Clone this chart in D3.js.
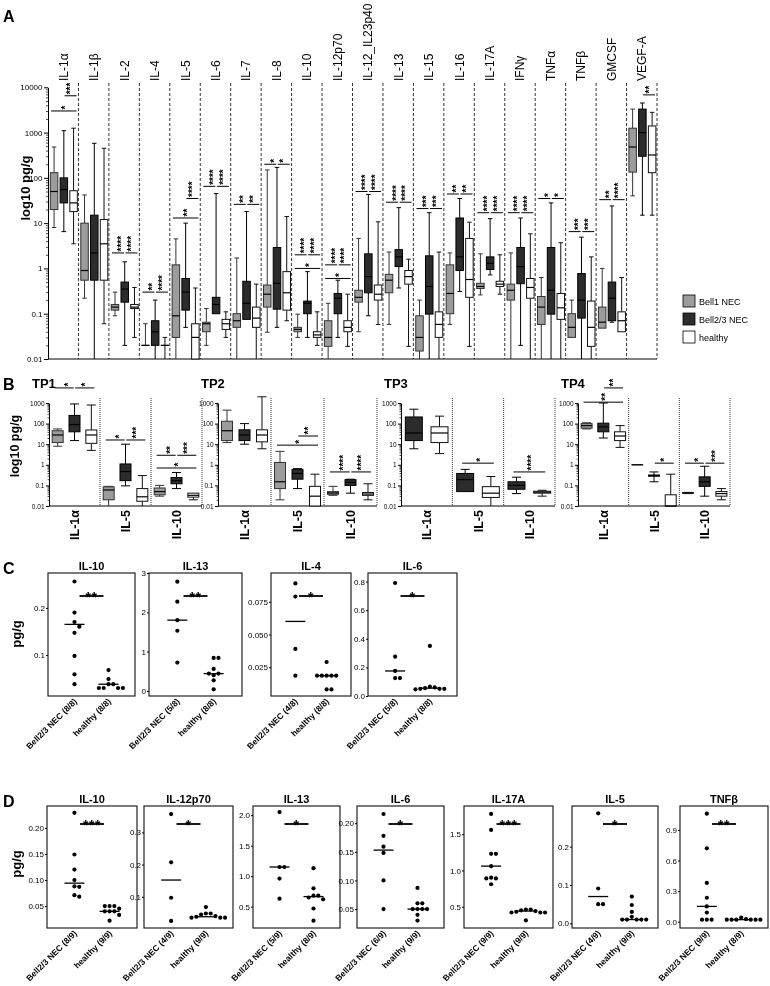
<!DOCTYPE html>
<html>
<head>
<meta charset="utf-8">
<script src="https://cdn.jsdelivr.net/npm/d3@7/dist/d3.min.js"></script>
<style>
  html,body{margin:0;padding:0;background:#fff;}
  svg{will-change:transform;}
  svg text{font-family:"Liberation Sans",Arial,Helvetica,sans-serif;}
</style>
</head>
<body>
<svg id="chart" width="770" height="986" xmlns="http://www.w3.org/2000/svg"></svg>
<script>
// ================= DATA =================
const groups = ["Bell1 NEC", "Bell2/3 NEC", "healthy"];

// ---- Panel A : box plots, [low whisker, q1, median, q3, high whisker] (pg/g)
const catsA = ["IL-1α","IL-1β","IL-2","IL-4","IL-5","IL-6","IL-7","IL-8","IL-10","IL-12p70","IL-12_IL23p40","IL-13","IL-15","IL-16","IL-17A","IFNγ","TNFα","TNFβ","GMCSF","VEGF-A"];
const bell1A = [
  [8,20,50,130,480],[0.22,0.55,0.9,10,42],[0.09,0.12,0.14,0.16,0.3],[0.02,0.02,0.02,0.02,0.06],
  [0.01,0.03,0.09,1.2,4.5],[0.02,0.04,0.06,0.065,0.13],[0.01,0.05,0.07,0.1,1.7],[0.039,0.14,0.27,0.43,150],
  [0.03,0.04,0.045,0.05,0.098],[0.01,0.019,0.03,0.07,0.17],[0.04,0.18,0.23,0.33,4.6],[0.058,0.29,0.55,0.74,2.3],
  [0.01,0.015,0.03,0.09,0.2],[0.058,0.1,0.28,1.2,2.2],[0.26,0.36,0.4,0.47,2.1],[0.01,0.2,0.33,0.45,2.2],
  [0.01,0.058,0.14,0.24,0.63],[0.03,0.03,0.05,0.1,0.2],[0.048,0.048,0.065,0.14,1.0],[40,134,480,1250,3300]
];
const bell23A = [
  [6.5,28,55,100,1100],[0.01,0.55,2.2,15,580],[0.02,0.18,0.35,0.5,1.4],[0.01,0.02,0.04,0.07,0.2],
  [0.05,0.12,0.3,0.6,10],[0.1,0.1,0.16,0.23,45],[0.075,0.075,0.17,0.52,18],[0.05,0.126,0.47,2.9,170],
  [0.03,0.1,0.17,0.19,0.85],[0.03,0.1,0.22,0.28,0.55],[0.09,0.29,0.66,2.1,43],[0.37,1.1,1.8,2.6,22],
  [0.01,0.098,0.4,1.9,17],[0.31,0.9,1.8,13,35],[0.72,0.95,1.3,1.8,12.6],[0.02,0.46,1.1,2.9,13],
  [0.01,0.098,0.33,2.9,28],[0.01,0.08,0.2,0.77,4.9],[0.065,0.07,0.22,0.5,24],[15,300,1000,3300,4500]
];
const healthyA = [
  [3.5,18,28,52,1250],[0.06,0.55,3.5,12,450],[0.03,0.13,0.14,0.16,0.38],[0.01,0.02,0.02,0.02,0.03],
  [0.01,0.01,0.03,0.06,0.37],[0.03,0.045,0.06,0.075,0.11],[0.01,0.05,0.08,0.14,0.45],[0.07,0.12,0.29,0.85,14],
  [0.02,0.03,0.034,0.04,0.11],[0.019,0.04,0.05,0.07,0.27],[0.058,0.2,0.27,0.43,10.7],[0.019,0.45,0.66,0.9,1.6],
  [0.01,0.03,0.058,0.11,2.3],[0.019,0.23,0.57,4.6,10.5],[0.27,0.4,0.45,0.52,2.0],[0.01,0.22,0.38,0.6,5.8],
  [0.01,0.075,0.135,0.28,3.7],[0.01,0.019,0.05,0.19,1.8],[0.04,0.04,0.07,0.11,0.63],[15,130,320,1400,2800]
];
const ticksA = [0.01,0.1,1,10,100,1000,10000];
// significance: [category, fromGroup, toGroup, level (pg/g), stars]
const sigA = [
  ["IL-1α",0,2,3000,"*"],["IL-1α",1,2,6500,"***"],
  ["IL-2",0,1,2.2,"****"],["IL-2",1,2,2.2,"****"],
  ["IL-4",0,1,0.3,"**"],["IL-4",1,2,0.3,"****"],
  ["IL-5",0,2,13,"**"],["IL-5",1,2,35,"****"],
  ["IL-6",0,1,65,"****"],["IL-6",1,2,65,"****"],
  ["IL-7",0,1,26,"**"],["IL-7",1,2,26,"**"],
  ["IL-8",0,1,200,"*"],["IL-8",1,2,200,"*"],
  ["IL-10",0,1,2,"****"],["IL-10",1,2,2,"****"],["IL-10",0,2,1,"*"],
  ["IL-12p70",0,1,1.2,"****"],["IL-12p70",1,2,1.2,"****"],["IL-12p70",0,2,0.6,"*"],
  ["IL-12_IL23p40",0,1,50,"****"],["IL-12_IL23p40",1,2,50,"****"],
  ["IL-13",0,1,29,"****"],["IL-13",1,2,29,"****"],
  ["IL-15",0,1,21,"***"],["IL-15",1,2,21,"***"],
  ["IL-16",0,1,44,"**"],["IL-16",1,2,44,"**"],
  ["IL-17A",0,1,17,"****"],["IL-17A",1,2,17,"****"],
  ["IFNγ",0,1,17,"****"],["IFNγ",1,2,17,"****"],
  ["TNFα",0,1,35,"*"],["TNFα",1,2,35,"*"],
  ["TNFβ",0,1,6.5,"***"],["TNFβ",1,2,6.5,"***"],
  ["GMCSF",0,1,33,"**"],["GMCSF",1,2,33,"****"],
  ["VEGF-A",1,2,6800,"**"]
];

// ---- Panel B : time points
const tps = ["TP1","TP2","TP3","TP4"];
const catsB = ["IL-1α","IL-5","IL-10"];
const bell1B = [
  [[8,12,28,45,55],[0.01,0.02,0.06,0.085,0.09],[0.03,0.035,0.05,0.075,0.1]],
  [[12,15,45,130,450],[0.02,0.07,0.15,1.3,4.5],[0.033,0.037,0.043,0.05,0.09]],
  null,
  [[55,60,80,100,110],[1,1,1,1,1],[0.04,0.042,0.043,0.045,0.046]]
];
const bell23B = [
  [[15,40,90,250,900],[0.095,0.17,0.47,1.1,10],[0.07,0.12,0.17,0.24,0.42]],
  [[10,15,28,50,100],[0.07,0.2,0.38,0.6,0.65],[0.042,0.1,0.14,0.19,0.2]],
  [[6,15,35,210,500],[0.05,0.05,0.19,0.38,0.6],[0.04,0.065,0.1,0.15,0.25]],
  [[20,40,70,105,1000],[0.15,0.28,0.3,0.32,0.45],[0.03,0.09,0.15,0.26,0.85]]
];
const healthyB = [
  [[5,11,28,49,800],[0.01,0.017,0.028,0.07,0.3],[0.02,0.027,0.033,0.042,0.042]],
  [[6,13,28,50,2000],[0.01,0.01,0.03,0.09,0.35],[0.02,0.033,0.038,0.045,0.12]],
  [[3.5,12,35,70,230],[0.01,0.026,0.042,0.087,0.27],[0.03,0.042,0.047,0.052,0.058]],
  [[7,15,25,40,80],[0.01,0.01,0.01,0.035,0.35],[0.02,0.03,0.04,0.05,0.07]]
];
const ticksB = [0.01,0.1,1,10,100,1000];
// [tp index, category, fromGroup, toGroup, level, stars]
const sigB = [
  [0,"IL-1α",0,1,5400,"*"],[0,"IL-1α",1,2,5400,"*"],
  [0,"IL-5",0,1,16,"*"],[0,"IL-5",1,2,16,"***"],
  [0,"IL-10",0,1,2.9,"**"],[0,"IL-10",1,2,2.9,"***"],[0,"IL-10",0,2,0.7,"*"],
  [1,"IL-5",0,2,9,"*"],[1,"IL-5",1,2,25,"**"],
  [1,"IL-10",0,1,0.45,"****"],[1,"IL-10",1,2,0.45,"****"],
  [2,"IL-5",1,2,1.2,"*"],
  [2,"IL-10",1,2,0.45,"****"],
  [3,"IL-1α",0,2,1100,"**"],[3,"IL-1α",1,2,5400,"**"],
  [3,"IL-5",1,2,1.2,"*"],
  [3,"IL-10",0,1,1.2,"*"],[3,"IL-10",1,2,1.2,"***"]
];

// ---- Panel C : dot plots (pg/g)
const catsC = ["IL-10","IL-13","IL-4","IL-6"];
const bellC = [
  [0.256,0.19,0.17,0.16,0.147,0.098,0.059,0.038],
  [2.78,2.27,1.8,1.53,0.72],
  [0.089,0.079,0.039,0.0185],
  [0.79,0.275,0.175,0.125,0.125]
];
const healthyC = [
  [0.068,0.049,0.038,0.038,0.03,0.03,0.03,0.03],
  [0.84,0.84,0.56,0.44,0.44,0.4,0.27,0.04],
  [0.029,0.0185,0.0185,0.0185,0.0185,0.0185,0.008,0.008],
  [0.35,0.065,0.06,0.055,0.05,0.05,0.05,0.047]
];
const medBellC = [0.165,1.8,0.06,0.175];
const medHealthyC = [0.038,0.44,0.0185,0.055];
const domC = [[0.013,0.274],[-0.13,3.0],[0.003,0.097],[0,0.86]];
const ticksC = [[0.1,0.2],[0,1,2,3],[0.025,0.05,0.075],[0,0.2,0.4,0.6,0.8]];
const fmtC = [".1f","d",".3f",".1f"];
const starsC = ["**","**","*","*"];
const labBellC = ["Bell2/3 NEC (8/8)","Bell2/3 NEC (5/8)","Bell2/3 NEC (4/8)","Bell2/3 NEC (5/8)"];
const labHealthyC = ["healthy (8/8)","healthy (8/8)","healthy (8/8)","healthy (8/8)"];

// ---- Panel D : dot plots (pg/g)
const catsD = ["IL-10","IL-12p70","IL-13","IL-6","IL-17A","IL-5","TNFβ"];
const bellD = [
  [0.229,0.149,0.12,0.1,0.088,0.087,0.071,0.068],
  [0.357,0.207,0.097,0.025],
  [2.05,1.15,1.15,0.96,0.63],
  [0.216,0.178,0.159,0.148,0.1,0.05],
  [1.78,1.56,1.23,1.23,1.06,0.9,0.89,0.89,0.81],
  [0.287,0.091,0.05,0.05],
  [1.06,0.72,0.38,0.235,0.15,0.089,0.02,0.02,0.02]
];
const healthyD = [
  [0.05,0.05,0.05,0.045,0.04,0.04,0.04,0.033,0.022],
  [0.068,0.048,0.048,0.045,0.04,0.038,0.035,0.035,0.035],
  [1.13,0.8,0.68,0.68,0.65,0.62,0.47,0.27],
  [0.087,0.06,0.06,0.05,0.05,0.05,0.05,0.04,0.03],
  [0.46,0.46,0.45,0.44,0.43,0.42,0.42,0.42,0.31],
  [0.07,0.048,0.03,0.017,0.01,0.01,0.01,0.01,0.01],
  [0.04,0.025,0.02,0.02,0.02,0.02,0.02,0.02]
];
const medBellD = [0.094,0.152,1.15,0.153,1.06,0.07,0.15];
const medHealthyD = [0.04,0.038,0.665,0.05,0.44,0.01,0.02];
const domD = [[0.008,0.242],[0.003,0.382],[0.15,2.15],[0.017,0.23],[0.206,1.89],[-0.012,0.306],[-0.062,1.135]];
const ticksD = [[0.05,0.1,0.15,0.2],[0.1,0.2,0.3],[0.5,1,1.5,2],[0.05,0.1,0.15,0.2],[0.5,1,1.5],[0,0.1,0.2],[0,0.3,0.6,0.9]];
const fmtD = [".2f",".1f",".1f",".2f",".1f",".1f",".1f"];
const starsD = ["***","*","*","*","***","*","**"];
const labBellD = ["Bell2/3 NEC (8/9)","Bell2/3 NEC (4/9)","Bell2/3 NEC (5/9)","Bell2/3 NEC (6/9)","Bell2/3 NEC (9/9)","Bell2/3 NEC (4/9)","Bell2/3 NEC (9/9)"];
const labHealthyD = ["healthy (9/9)","healthy (9/9)","healthy (8/9)","healthy (9/9)","healthy (9/9)","healthy (9/9)","healthy (8/9)"];

// ================= DRAWING =================
const FONT = "'Liberation Sans', Arial, Helvetica, sans-serif";
const svg = d3.select("#chart");
const fills = ["#9c9c9c", "#2c2c2c", "#ffffff"];
const strokes = ["#333", "#000", "#111"];

function fmtLog(d) { return d >= 1 ? d3.format("d")(d) : String(+d.toPrecision(3)); }
function minorTicks(lo, hi) {
  const out = [];
  for (let e = lo; e < hi; e++) for (let k = 2; k <= 9; k++) out.push(k * Math.pow(10, e));
  return out;
}
function logAxis(g, x, y, majors, minors, fs, majLen, minLen) {
  const gm = g.append("g").attr("transform", `translate(${x},0)`)
    .call(d3.axisLeft(y).tickValues(minors).tickSize(minLen).tickFormat("").tickSizeOuter(0));
  gm.select(".domain").remove();
  gm.selectAll("line").attr("stroke", "#000").attr("stroke-width", 0.7);
  const ga = g.append("g").attr("transform", `translate(${x},0)`)
    .call(d3.axisLeft(y).tickValues(majors).tickSize(majLen).tickPadding(1.5).tickFormat(fmtLog).tickSizeOuter(0));
  ga.attr("font-size", fs).attr("font-family", FONT);
  ga.selectAll("line,path").attr("stroke", "#000").attr("stroke-width", 1);
  ga.selectAll("text").attr("fill", "#000");
}
function drawBox(g, cx, w, v, y, gi, capW, yMin) {
  if (!v) return;
  const [lo, q1, md, q3, hi] = v;
  const Y = d => y(Math.max(d, yMin));
  const st = strokes[gi];
  g.append("line").attr("x1", cx).attr("x2", cx).attr("y1", Y(hi)).attr("y2", Y(q3)).attr("stroke", st);
  g.append("line").attr("x1", cx).attr("x2", cx).attr("y1", Y(q1)).attr("y2", Y(lo)).attr("stroke", st);
  if (hi > q3) g.append("line").attr("x1", cx - capW / 2).attr("x2", cx + capW / 2).attr("y1", Y(hi)).attr("y2", Y(hi)).attr("stroke", st);
  if (lo < q1 && lo > yMin) g.append("line").attr("x1", cx - capW / 2).attr("x2", cx + capW / 2).attr("y1", Y(lo)).attr("y2", Y(lo)).attr("stroke", st);
  g.append("rect").attr("x", cx - w / 2).attr("y", Y(q3)).attr("width", w)
    .attr("height", Math.max(Y(q1) - Y(q3), 0.01))
    .attr("fill", fills[gi]).attr("stroke", st).attr("stroke-width", 1);
  g.append("line").attr("x1", cx - w / 2).attr("x2", cx + w / 2).attr("y1", Y(md)).attr("y2", Y(md))
    .attr("stroke", "#000").attr("stroke-width", 1.2);
}
function vStars(g, x, y, s, fs) {
  g.append("text").attr("transform", `translate(${x + 0.56 * fs},${y - 1.5}) rotate(-90)`)
    .attr("font-size", fs).attr("font-weight", "bold").attr("text-anchor", "start").attr("fill", "#000").text(s);
}
function panelLetter(x, y, s) {
  svg.append("text").attr("x", x).attr("y", y).attr("font-size", 16).attr("font-weight", "bold").text(s);
}

// ---------- Panel A ----------
(function () {
  const x0 = 48, x1 = 657, yTop = 87.3, yBot = 359, sepTop = 83;
  const g = svg.append("g");
  const xA = d3.scaleBand().domain(catsA).range([x0, x1]);
  const bw = xA.bandwidth();
  const yA = d3.scaleLog().domain([0.01, 10000]).range([yBot, yTop]);
  const slot = [0.2, 0.52, 0.84];
  const cxOf = (c, gi) => xA(c) + slot[gi] * bw;

  const seps = catsA.slice(1).map(c => xA(c)).concat([x1]);
  g.selectAll("line.sep").data(seps).join("line")
    .attr("x1", d => d).attr("x2", d => d).attr("y1", sepTop).attr("y2", yBot)
    .attr("stroke", "#000").attr("stroke-width", 0.8).attr("stroke-dasharray", "3,2");
  g.append("line").attr("x1", x0).attr("x2", x1).attr("y1", yBot).attr("y2", yBot).attr("stroke", "#000").attr("stroke-width", 1.2);
  logAxis(g, x0, yA, ticksA, minorTicks(-2, 4), 8, 4, 2);

  catsA.forEach(c => {
    g.append("text").attr("transform", `translate(${xA(c) + bw / 2 + 4.5},81) rotate(-90)`)
      .attr("font-size", 12).attr("text-anchor", "start").attr("fill", "#000").text(c);
  });
  const dataA = [bell1A, bell23A, healthyA];
  catsA.forEach((c, i) => {
    [0, 1, 2].forEach(gi => drawBox(g, cxOf(c, gi), 7.5, dataA[gi][i], yA, gi, 4.5, 0.01));
  });
  sigA.forEach(([c, a, b, lvl, s]) => {
    const xa = cxOf(c, a) + (a === 1 ? 0.8 : -3);
    const xb = cxOf(c, b) + (b === 1 ? -0.8 : 3);
    const yy = yA(lvl);
    g.append("line").attr("x1", xa).attr("x2", xb).attr("y1", yy).attr("y2", yy).attr("stroke", "#000").attr("stroke-width", 1);
    vStars(g, (cxOf(c, a) + cxOf(c, b)) / 2, yy, s, 10);
  });
  g.append("text").attr("transform", `translate(30,188) rotate(-90)`).attr("text-anchor", "middle")
    .attr("font-size", 13).attr("font-weight", "bold").text("log10 pg/g");
  groups.forEach((nm, gi) => {
    g.append("rect").attr("x", 683).attr("y", 295 + gi * 18).attr("width", 12).attr("height", 12)
      .attr("fill", fills[gi]).attr("stroke", "#000").attr("stroke-width", 0.8);
    g.append("text").attr("x", 699).attr("y", 304.5 + gi * 18).attr("font-size", 9).text(nm);
  });
})();
panelLetter(3, 22, "A");

// ---------- Panel B ----------
(function () {
  const tpX0 = [49, 218, 401, 578], tpX1 = [202, 377, 555, 730];
  const yTop = 403, yBot = 506, sepTop = 398;
  const yB = d3.scaleLog().domain([0.01, 1000]).range([yBot, yTop]);
  const g = svg.append("g");
  tps.forEach((tp, t) => {
    const xB = d3.scaleBand().domain(catsB).range([tpX0[t], tpX1[t]]);
    const bw = xB.bandwidth();
    const data = [bell1B[t], bell23B[t], healthyB[t]];
    const present = [0, 1, 2].filter(gi => data[gi] != null);
    const slots = present.length === 3 ? [0.17, 0.5, 0.83] : [0.25, 0.75];
    const boxW = present.length === 3 ? 11 : 17;
    const cxOf = (c, gi) => xB(c) + slots[present.indexOf(gi)] * bw;

    const seps = catsB.slice(1).map(c => xB(c)).concat([tpX1[t]]);
    g.selectAll(null).data(seps).join("line")
      .attr("x1", d => d).attr("x2", d => d).attr("y1", sepTop).attr("y2", yBot)
      .attr("stroke", "#000").attr("stroke-width", 0.8).attr("stroke-dasharray", "1,1");
    g.append("line").attr("x1", tpX0[t]).attr("x2", tpX1[t]).attr("y1", yBot).attr("y2", yBot).attr("stroke", "#000").attr("stroke-width", 1);
    logAxis(g, tpX0[t], yB, ticksB, minorTicks(-2, 3), 6.5, 3, 1.5);

    catsB.forEach((c, i) => {
      present.forEach(gi => drawBox(g, cxOf(c, gi), boxW, data[gi][i], yB, gi, 9, 0.01));
      g.append("text").attr("transform", `translate(${xB(c) + bw / 2 + 4.5},510) rotate(-90)`)
        .attr("font-size", 12.5).attr("font-weight", "bold").attr("text-anchor", "end").text(c);
    });
    g.append("text").attr("x", tpX0[t] - 17).attr("y", 388).attr("font-size", 13).attr("font-weight", "bold").text(tp);

    sigB.filter(s => s[0] === t).forEach(([, c, a, b, lvl, s]) => {
      const xa = cxOf(c, a) + (a === 1 && present.length === 3 ? 0.8 : -3);
      const xb = cxOf(c, b) + (b === 1 ? -0.8 : 3);
      const yy = yB(lvl);
      g.append("line").attr("x1", xa).attr("x2", xb).attr("y1", yy).attr("y2", yy).attr("stroke", "#000").attr("stroke-width", 1);
      vStars(g, (cxOf(c, a) + cxOf(c, b)) / 2, yy, s, 10);
    });
  });
  g.append("text").attr("transform", `translate(19,446) rotate(-90)`).attr("text-anchor", "middle")
    .attr("font-size", 12.5).attr("font-weight", "bold").text("log10 pg/g");
})();
panelLetter(3, 390, "B");

// ---------- dot-plot subpanels (C & D) ----------
function swarm(vals, cx, y, r) {
  const pts = vals.map(v => ({ v, y: y(v) })).sort((a, b) => a.y - b.y);
  const placed = [];
  const d = 2 * r + 0.6;
  pts.forEach(p => {
    const offs = [0];
    for (let k = 1; k < 8; k++) offs.push(k * d, -k * d);
    for (const o of offs) {
      const ok = placed.every(q => Math.hypot(q.x - (cx + o), q.y - p.y) >= d - 0.01);
      if (ok) { p.x = cx + o; break; }
    }
    placed.push(p);
  });
  return placed;
}
function dotPanel(x0, x1, yTop, yBot, dom, ticks, fmt, bv, hv, mb, mh, stars, title, lb, lh, titleY, brOff) {
  const g = svg.append("g");
  const y = d3.scaleLinear().domain(dom).range([yBot, yTop]);
  const xs = d3.scalePoint().domain([lb, lh]).range([x0, x1]).padding(0.78);
  g.append("rect").attr("x", x0).attr("y", yTop).attr("width", x1 - x0).attr("height", yBot - yTop)
    .attr("fill", "none").attr("stroke", "#222").attr("stroke-width", 1.2);
  const ax = g.append("g").attr("transform", `translate(${x0},0)`)
    .call(d3.axisLeft(y).tickValues(ticks).tickSize(2).tickPadding(1).tickFormat(d3.format(fmt)).tickSizeOuter(0));
  ax.select(".domain").remove();
  ax.attr("font-size", 8).attr("font-family", FONT);
  ax.selectAll("line").attr("stroke", "#000");
  ax.selectAll("text").attr("fill", "#000");
  [[bv, mb, lb], [hv, mh, lh]].forEach(([vals, med, lab]) => {
    const cx = xs(lab);
    g.selectAll(null).data(swarm(vals, cx, y, 2.1)).join("circle")
      .attr("cx", d => d.x).attr("cy", d => d.y).attr("r", 2.1).attr("fill", "#000");
    g.append("line").attr("x1", cx - 10).attr("x2", cx + 10).attr("y1", y(med)).attr("y2", y(med))
      .attr("stroke", "#000").attr("stroke-width", 1.3);
    g.append("text").attr("transform", `translate(${cx + 3},${yBot + 6}) rotate(-45)`)
      .attr("text-anchor", "end").attr("font-size", 8.5).attr("font-weight", "bold").attr("fill", "#000").text(lab);
  });
  const mid = (xs(lb) + xs(lh)) / 2, ly = yTop + brOff;
  g.append("line").attr("x1", mid - 12).attr("x2", mid + 12).attr("y1", ly).attr("y2", ly).attr("stroke", "#000").attr("stroke-width", 1.8);
  g.append("text").attr("x", mid).attr("y", ly + 5.5).attr("text-anchor", "middle").attr("font-size", 14)
    .attr("font-weight", "bold").attr("letter-spacing", 0.5).attr("fill", "#000").text(stars);
  g.append("text").attr("x", (x0 + x1) / 2).attr("y", titleY).attr("text-anchor", "middle")
    .attr("font-size", 11).attr("font-weight", "bold").attr("fill", "#000").text(title);
}

// ---------- Panel C ----------
const boxXC = [[48, 135], [149, 242], [271, 351], [368, 457]];
catsC.forEach((c, i) => dotPanel(boxXC[i][0], boxXC[i][1], 573, 696, domC[i], ticksC[i], fmtC[i],
  bellC[i], healthyC[i], medBellC[i], medHealthyC[i], starsC[i], c, labBellC[i], labHealthyC[i], 570, 23));
svg.append("text").attr("transform", "translate(21,634) rotate(-90)").attr("text-anchor", "middle")
  .attr("font-size", 13).attr("font-weight", "bold").text("pg/g");
panelLetter(3, 574, "C");

// ---------- Panel D ----------
const boxXD = [[47, 137], [144, 233], [253, 340], [357, 444], [464, 553], [572, 658], [680, 768]];
catsD.forEach((c, i) => dotPanel(boxXD[i][0], boxXD[i][1], 806, 928, domD[i], ticksD[i], fmtD[i],
  bellD[i], healthyD[i], medBellD[i], medHealthyD[i], starsD[i], c, labBellD[i], labHealthyD[i], 803, 18));
svg.append("text").attr("transform", "translate(21,864) rotate(-90)").attr("text-anchor", "middle")
  .attr("font-size", 13).attr("font-weight", "bold").text("pg/g");
panelLetter(3, 807, "D");
</script>
</body>
</html>
